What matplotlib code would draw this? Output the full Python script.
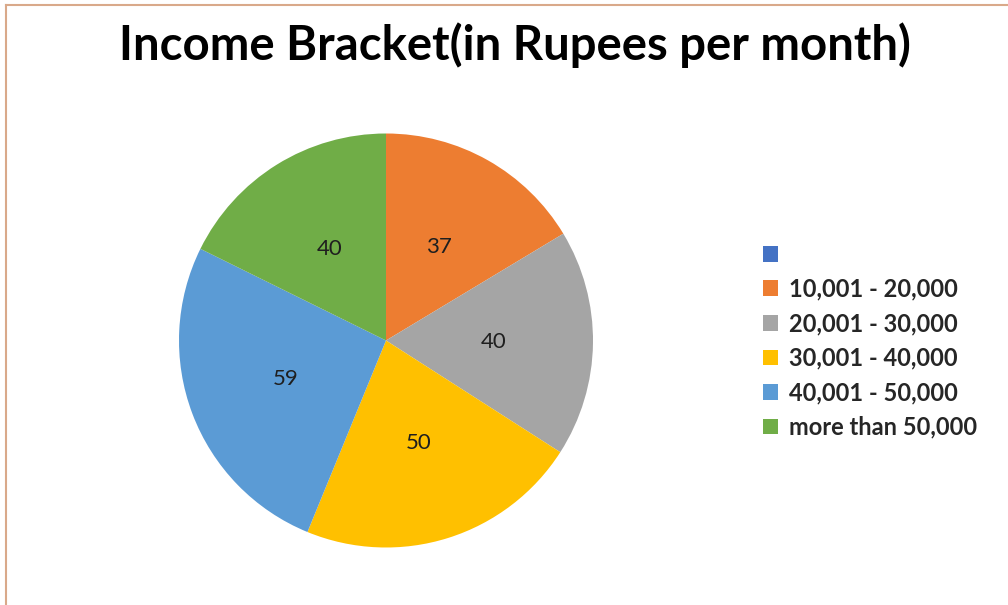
import matplotlib
matplotlib.use("Agg")
import matplotlib.pyplot as plt
from matplotlib.lines import Line2D
from matplotlib.patches import Patch

plt.rcParams['font.family'] = ['Lato', 'DejaVu Sans']

# data (first slice has no label and no value)
brackets = ['', '10,001 - 20,000', '20,001 - 30,000', '30,001 - 40,000',
            '40,001 - 50,000', 'more than 50,000']
counts = [0, 37, 40, 50, 59, 40]
colors = ['#4472C4', '#ED7D31', '#A5A5A5', '#FFC000', '#5B9BD5', '#70AD47']

W, H = 1008, 605
fig = plt.figure(figsize=(W / 100, H / 100), dpi=100)

# pie centre (386, 340.5) px, radius 207 px
cx, cy, r = 386, 340.5, 207
ax = fig.add_axes([(cx - r) / W, (H - cy - r) / H, 2 * r / W, 2 * r / H])

total = sum(counts)


def show_value(pct):
    v = round(pct * total / 100)
    return '' if v == 0 else str(v)


wedges, _, autotexts = ax.pie(counts, colors=colors, startangle=90, counterclock=False,
                              autopct=show_value, pctdistance=0.52,
                              wedgeprops=dict(linewidth=0),
                              textprops=dict(fontsize=16, color='#1F1F1F'))
ax.set_xlim(-1, 1)
ax.set_ylim(-1, 1)
ax.set_aspect('equal')

fig.text(515 / W, 1 - 45 / H, 'Income Bracket(in Rupees per month)', ha='center', va='center',
         fontsize=34, fontweight='bold', color='black')

handles = [Patch(facecolor=c, edgecolor='none') for c in colors]
leg = fig.legend(handles, brackets, loc='upper left', bbox_to_anchor=(763 / W, 1 - 243 / H),
                 frameon=False, prop=dict(size=17, weight='bold'), labelcolor='#262626',
                 handlelength=0.64, handleheight=0.64, handletextpad=0.47, labelspacing=0.49,
                 borderpad=0, borderaxespad=0)

# tan border on the left and top, as in the reference
fig.add_artist(Line2D([6 / W, 6 / W], [0, 1 - 5 / H], color='#D9A98A', lw=1.5))
fig.add_artist(Line2D([6 / W, 1], [1 - 5 / H, 1 - 5 / H], color='#D9A98A', lw=1.5))

fig.savefig('out.png', dpi=100, facecolor='white')
